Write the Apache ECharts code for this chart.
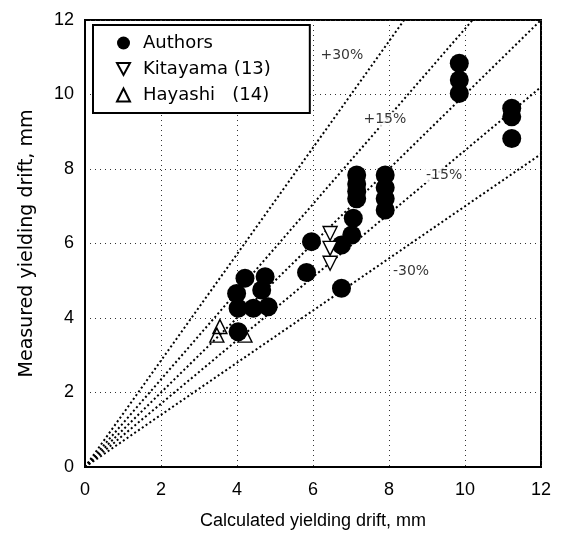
<!DOCTYPE html>
<html>
<head>
<meta charset="utf-8">
<script src="https://cdn.jsdelivr.net/npm/echarts@6/dist/echarts.min.js"></script>
<style>
  html, body { margin: 0; padding: 0; background: #fff; }
  #chart { width: 561px; height: 544px; }
</style>
</head>
<body>
<div id="chart"></div>
<script>
// Authors (filled circles)
const authorsX = [4.03, 4.21, 4.74, 4.65, 3.99, 4.03, 4.43, 4.82, 5.83, 5.96, 6.75, 6.75, 7.02, 7.06,
  7.15, 7.15, 7.15, 7.15, 7.9, 7.9, 7.9, 7.9, 9.85, 9.85, 9.85, 11.23, 11.23, 11.23]
const authorsY = [3.63, 5.07, 5.11, 4.75, 4.66, 4.26, 4.26, 4.3, 5.22, 6.05, 4.8, 5.96, 6.23, 6.68,
  7.84, 7.6, 7.4, 7.2, 7.84, 7.5, 7.2, 6.9, 10.84, 10.39, 10.03, 9.63, 9.4, 8.82]
// Kitayama (13)
const kitaX = [6.45, 6.45, 6.45]
const kitaY = [6.27, 5.87, 5.47]
// Hayashi (14)
const hayaX = [3.55, 3.47, 4.21]
const hayaY = [3.77, 3.54, 3.54]
// reference lines: measured = ratio * calculated
const refRatios = [1 / 0.7, 1 / 0.85, 1, 0.85, 0.7]
const refLabels = ['+30%', '+15%', '-15%', '-30%']
const refLabelPos = [[6.76, 11.06], [7.89, 9.32], [9.45, 7.84], [8.58, 5.24]]
const axisMax = 12

const font = 'Liberation Sans, Arial, Helvetica, sans-serif'
const wideFont = 'DejaVu Sans, Liberation Sans, sans-serif'
const pair = (xs, ys) => xs.map((x, i) => [x, ys[i]])

const refSeries = refRatios.map(r => ({
  type: 'line',
  silent: true,
  symbol: 'none',
  z: 1,
  lineStyle: { color: '#000', width: 2, type: [2, 2.6] },
  data: [[0, 0], r > 1 ? [axisMax / r, axisMax] : [axisMax, axisMax * r]]
}))

const option = {
  animation: false,
  backgroundColor: '#fff',
  textStyle: { fontFamily: font, color: '#000' },
  grid: {
    left: 85, right: 20, top: 20, bottom: 77,
    show: true, borderColor: '#000', borderWidth: 2
  },
  legend: {
    orient: 'vertical',
    left: 93, top: 25,
    padding: [9, 39, 9, 23],
    backgroundColor: '#fff',
    borderColor: '#000', borderWidth: 2,
    itemWidth: 13, itemHeight: 13,
    itemGap: 8,
    textStyle: { fontSize: 18, color: '#000', fontFamily: wideFont, padding: [0, 0, 0, 8] },
    data: [
      { name: 'Authors', icon: 'circle' },
      { name: 'Kitayama (13)', icon: 'path://M0,0L12,0L6,11Z' },
      { name: 'Hayashi   (14)', icon: 'triangle' }
    ]
  },
  xAxis: {
    type: 'value', min: 0, max: 12, interval: 2,
    name: 'Calculated yielding drift, mm',
    nameLocation: 'middle', nameGap: 45,
    nameTextStyle: { fontSize: 18, color: '#000' },
    axisLine: { lineStyle: { color: '#000', width: 2 } },
    axisTick: { show: false },
    axisLabel: { fontSize: 18, color: '#000', margin: 14 },
    splitLine: { show: true, lineStyle: { color: '#333', width: 1, type: [1, 4] } }
  },
  yAxis: {
    type: 'value', min: 0, max: 12, interval: 2,
    name: 'Measured yielding drift, mm',
    nameLocation: 'middle', nameGap: 48,
    nameTextStyle: { fontSize: 19, color: '#000', fontFamily: wideFont },
    axisLine: { lineStyle: { color: '#000', width: 2 } },
    axisTick: { show: false },
    axisLabel: { fontSize: 18, color: '#000', margin: 11 },
    splitLine: { show: true, lineStyle: { color: '#333', width: 1, type: [1, 4] } }
  },
  series: [
    ...refSeries,
    {
      type: 'scatter',
      silent: true,
      symbolSize: 0,
      z: 2,
      label: {
        show: true, position: 'inside', fontSize: 14, color: '#000', fontFamily: wideFont,
        backgroundColor: '#fff', padding: [1, 2],
        formatter: p => refLabels[p.dataIndex]
      },
      data: refLabelPos
    },
    {
      name: 'Authors',
      type: 'scatter',
      symbol: 'circle',
      symbolSize: 19,
      z: 3,
      itemStyle: { color: '#000', opacity: 1 },
      data: pair(authorsX, authorsY)
    },
    {
      name: 'Kitayama (13)',
      type: 'scatter',
      symbol: 'triangle',
      symbolRotate: 180,
      symbolSize: 14,
      z: 4,
      itemStyle: { color: '#fff', borderColor: '#000', borderWidth: 1.4, opacity: 1 },
      data: pair(kitaX, kitaY)
    },
    {
      name: 'Hayashi   (14)',
      type: 'scatter',
      symbol: 'triangle',
      symbolSize: 14,
      z: 4,
      itemStyle: { color: 'rgba(255,255,255,0)', borderColor: '#000', borderWidth: 1.4, opacity: 1 },
      data: pair(hayaX, hayaY)
    }
  ]
}

const chart = echarts.init(document.getElementById('chart'))
chart.setOption(option)
</script>
</body>
</html>
